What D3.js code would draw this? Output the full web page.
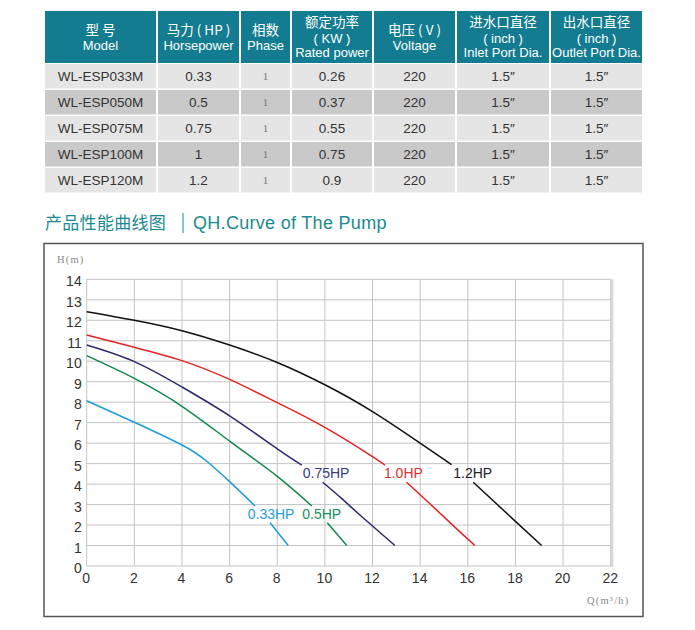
<!DOCTYPE html>
<html>
<head>
<meta charset="utf-8">
<script src="https://cdn.jsdelivr.net/npm/d3@7"></script>
<style>
  body { margin: 0; background: #fff; }
  svg { display: block; font-family: "Liberation Sans", Arial, sans-serif; }
</style>
</head>
<body>
<div id="chart"></div>
<script>
// ---- table data ----
const headers = [
    ["型  号", "Model"],
    ["马力 ( HP )", "Horsepower"],
    ["相数", "Phase"],
    ["额定功率", "( KW )", "Rated power"],
    ["电压 ( V )", "Voltage"],
    ["进水口直径", "( inch )", "Inlet Port Dia."],
    ["出水口直径", "( inch )", "Outlet Port Dia."]
];
const models = ["WL-ESP033M", "WL-ESP050M", "WL-ESP075M", "WL-ESP100M", "WL-ESP120M"];
const horsepower = ["0.33", "0.5", "0.75", "1", "1.2"];
const phase = ["1", "1", "1", "1", "1"];
const ratedPower = ["0.26", "0.37", "0.55", "0.75", "0.9"];
const voltage = ["220", "220", "220", "220", "220"];
const inletDia = ["1.5″", "1.5″", "1.5″", "1.5″", "1.5″"];
const outletDia = ["1.5″", "1.5″", "1.5″", "1.5″", "1.5″"];

// ---- curve data (Q m3/h, H m), split where the label sits ----
const curveNames = ["0.33HP", "0.5HP", "0.75HP", "1.0HP", "1.2HP"];
const hp033 = [
    [[0, 8.07], [2, 7.02], [4, 5.91], [5, 5.15], [6, 4.12], [7.07, 2.93]],
    [[7.7, 2.11], [8.46, 1.0]]
];
const hp050 = [
    [[0, 10.27], [2, 9.16], [4, 7.8], [6, 6.1], [8, 4.38], [9.45, 2.93]],
    [[10.1, 2.11], [10.92, 1.0]]
];
const hp075 = [
    [[0, 10.79], [2, 9.98], [4, 8.74], [6, 7.33], [8, 5.72], [9.03, 4.93]],
    [[9.91, 4.09], [10.7, 3.3], [11.47, 2.49], [12.94, 1.0]]
];
const hp100 = [
    [[0, 11.28], [2, 10.68], [4, 10.03], [6, 9.11], [8, 7.98], [10, 6.77], [12, 5.34], [12.52, 4.92]],
    [[13.43, 4.09], [14.5, 2.94], [15.5, 1.85], [16.3, 1.0]]
];
const hp120 = [
    [[0, 12.42], [2, 12.0], [4, 11.49], [6, 10.79], [8, 9.94], [10, 8.85], [12, 7.54], [14, 6.0], [15.32, 4.95]],
    [[16.23, 4.09], [18, 2.18], [19.1, 1.0]]
];
const xTicks = [0, 2, 4, 6, 8, 10, 12, 14, 16, 18, 20, 22];
const yTicks = [0, 1, 2, 3, 4, 5, 6, 7, 8, 9, 10, 11, 12, 13, 14];

const W = 695, H = 630;
const svg = d3.select("#chart").append("svg").attr("width", W).attr("height", H);

// ---------------- table ----------------
const colEdges = [45, 157, 240, 291, 373, 456, 550, 643];
const headTop = 11, headBottom = 63;
const rowTop = 64, rowH = 26;
const teal = "#147c90";

const table = svg.append("g");
const columns = [models, horsepower, phase, ratedPower, voltage, inletDia, outletDia];

headers.forEach(function(lines, i) {
    let x0 = colEdges[i] + (i > 0 ? 1 : 0), x1 = colEdges[i + 1] - 1;
    table.append("rect")
        .attr("x", x0).attr("y", headTop)
        .attr("width", x1 - x0).attr("height", headBottom - headTop)
        .attr("fill", teal);
    let ys = lines.length == 2 ? [30, 45.5] : [22, 38, 52.5];
    lines.forEach(function(t, j) {
        let isCjk = /[\u4e00-\u9fff]/.test(t);
        table.append("text")
            .attr("x", (x0 + x1) / 2)
            .attr("y", ys[j])
            .attr("dy", "0.36em")
            .style("text-anchor", "middle")
            .style("fill", "#fff")
            .style("font-size", isCjk ? "13.5px" : "13px")
            .style("font-family", isCjk ? "'Noto Sans CJK SC', sans-serif" : null)
            .text(t);
    });
});

models.forEach(function(m, r) {
    let y0 = rowTop + r * rowH;
    columns.forEach(function(col, i) {
        let x0 = colEdges[i] + (i > 0 ? 1 : 0), x1 = colEdges[i + 1] - 1;
        table.append("rect")
            .attr("x", x0).attr("y", y0)
            .attr("width", x1 - x0).attr("height", rowH - 1.5)
            .attr("fill", r % 2 == 0 ? "#e5e5e5" : "#c9c9c9");
        table.append("text")
            .attr("x", (x0 + x1) / 2)
            .attr("y", y0 + (rowH - 1.5) / 2)
            .attr("dy", "0.36em")
            .style("text-anchor", "middle")
            .style("fill", i == 2 ? "#777" : "#333")
            .style("font-size", i == 2 ? "11px" : "13.5px")
            .style("font-family", i == 2 ? "'Liberation Serif', serif" : null)
            .text(col[r]);
    });
});

// ---------------- section title ----------------
svg.append("text")
    .attr("x", 45).attr("y", 223)
    .attr("dy", "0.36em")
    .style("font-family", "'Noto Sans CJK SC', sans-serif")
    .style("font-size", "17px")
    .style("letter-spacing", "0.3px")
    .style("fill", "#1a8a8e")
    .text("产品性能曲线图");
svg.append("line")
    .attr("x1", 183).attr("x2", 183).attr("y1", 213).attr("y2", 233)
    .attr("stroke", "#1a8a8e").attr("stroke-width", 1);
svg.append("text")
    .attr("x", 193).attr("y", 223)
    .attr("dy", "0.36em")
    .style("font-size", "18px")
    .style("letter-spacing", "0.3px")
    .style("fill", "#1a8a8e")
    .text("QH.Curve of The Pump");

// ---------------- chart ----------------
svg.append("rect")
    .attr("x", 44).attr("y", 243.5)
    .attr("width", 599).attr("height", 373)
    .attr("fill", "none")
    .attr("stroke", "#555")
    .attr("stroke-width", 1.5);

let x = d3.scaleLinear().domain([0, 22]).range([86.7, 610.7]);
let y = d3.scaleLinear().domain([0, 14]).range([566, 279.3]);

// right edge shadow
svg.append("line")
    .attr("x1", x(22) + 1.5).attr("x2", x(22) + 1.5)
    .attr("y1", y(14)).attr("y2", y(0) + 1)
    .attr("stroke", "#dcdcdc").attr("stroke-width", 2.5);

let grid = svg.append("g");
grid.selectAll("line.v").data(xTicks).enter().append("line")
    .attr("class", "v")
    .attr("x1", d => x(d)).attr("x2", d => x(d))
    .attr("y1", y(14)).attr("y2", y(0))
    .attr("stroke", "#c4c4c4").attr("stroke-width", 1);
grid.selectAll("line.h").data(yTicks).enter().append("line")
    .attr("class", "h")
    .attr("x1", x(0)).attr("x2", x(22))
    .attr("y1", d => y(d)).attr("y2", d => y(d))
    .attr("stroke", "#c4c4c4").attr("stroke-width", 1);

let yAxis = svg.append("g")
    .attr("transform", `translate(${x(0)}, 2)`)
    .call(d3.axisLeft(y).tickValues(yTicks).tickSize(0).tickPadding(5));
yAxis.select(".domain").remove();
yAxis.selectAll("text").style("font-size", "14px").style("fill", "#333")
    .style("font-family", "'Liberation Sans', Arial, sans-serif");

let xAxis = svg.append("g")
    .attr("transform", `translate(-1, ${y(0)})`)
    .call(d3.axisBottom(x).tickValues(xTicks).tickSize(0).tickPadding(7));
xAxis.select(".domain").remove();
xAxis.selectAll("text").style("font-size", "14px").style("fill", "#333")
    .style("font-family", "'Liberation Sans', Arial, sans-serif");

svg.append("text")
    .attr("x", 57).attr("y", 259).attr("dy", "0.36em")
    .style("font-family", "'Liberation Serif', serif")
    .style("font-size", "10.5px").style("letter-spacing", "1.2px").style("fill", "#888")
    .text("H(m)");
svg.append("text")
    .attr("x", 587).attr("y", 600).attr("dy", "0.36em")
    .style("font-family", "'Liberation Serif', serif")
    .style("font-size", "10.5px").style("letter-spacing", "1.2px").style("fill", "#888")
    .text("Q(m³/h)");

// curves
const curveData = [hp033, hp050, hp075, hp100, hp120];
const curveColors = ["#1c9dd4", "#12874f", "#2c2a6c", "#e02424", "#111111"];
const labelColors = ["#22a0d6", "#17905a", "#3b3a7c", "#e23030", "#222222"];
const labelAt = [[6.76, 2.54], [9.05, 2.54], [9.07, 4.56], [12.48, 4.56], [15.39, 4.56]];

let line = d3.line()
    .x(d => x(d[0]))
    .y(d => y(d[1]))
    .curve(d3.curveNatural);

let curves = svg.append("g");
curveData.forEach(function(segs, i) {
    segs.forEach(function(seg) {
        curves.append("path")
            .datum(seg)
            .attr("d", line)
            .attr("fill", "none")
            .attr("stroke", curveColors[i])
            .attr("stroke-width", 1.5);
    });
    curves.append("text")
        .attr("x", x(labelAt[i][0]))
        .attr("y", y(labelAt[i][1]))
        .attr("dy", "0.36em")
        .style("font-size", "14px")
        .style("fill", labelColors[i])
        .text(curveNames[i]);
});
</script>
</body>
</html>
